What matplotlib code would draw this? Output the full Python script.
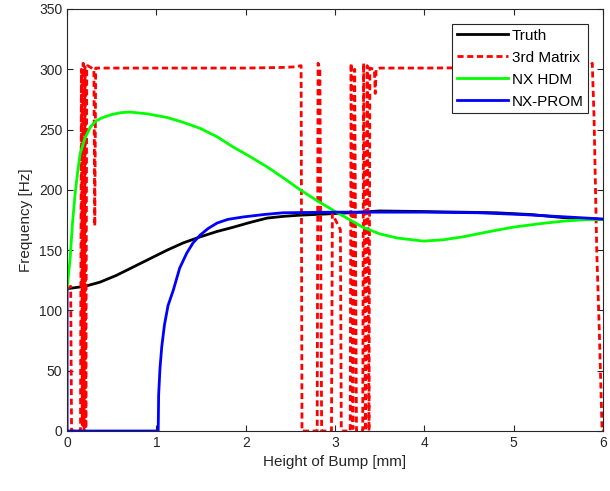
import matplotlib.pyplot as plt
import matplotlib as mpl
import numpy as np

mpl.rcParams['font.family'] = ['Liberation Sans', 'DejaVu Sans']
mpl.rcParams['font.size'] = 10

# Truth
truth_x = [0, 0.2, 0.37, 0.55, 0.74, 0.93, 1.12, 1.3, 1.49, 1.68, 1.86, 2.05, 2.24, 2.42, 2.61, 2.9, 3.17,
           3.5, 4.0, 4.4, 4.8, 5.2, 5.55, 5.8, 6.0]
truth_y = [118, 120, 123.5, 129, 136, 143, 150, 156, 161, 165.5, 169, 173, 176.6, 178, 179, 180, 181,
           182.5, 182, 181.5, 181, 179.5, 177, 176, 175.5]

# NX HDM
hdm_x = [0, 0.034, 0.06, 0.09, 0.12, 0.146, 0.2, 0.26, 0.32, 0.4, 0.5, 0.6, 0.705, 0.9, 1.12, 1.3, 1.49,
         1.68, 1.86, 2.05, 2.24, 2.42, 2.61, 2.8, 2.98, 3.17, 3.31, 3.5, 3.7, 3.99, 4.2, 4.43, 4.7,
         4.99, 5.3, 5.55, 5.8, 6.0]
hdm_y = [118, 143, 172, 197, 216, 230, 243, 252, 257, 260, 262.5, 264, 264.5, 263, 260, 256, 251,
         244, 235.5, 227.5, 219, 210, 200, 191, 183, 175, 169, 163.5, 160, 157.5, 158.5, 161, 165,
         169, 172, 174, 175.3, 175.5]

# NX-PROM
prom_x = [0, 0, 1.02, 1.025, 1.04, 1.06, 1.09, 1.13, 1.19, 1.26, 1.34, 1.41, 1.49, 1.58, 1.68, 1.8, 1.97,
          2.2, 2.42, 3.0, 4.0, 4.6, 5.1, 5.6, 6.0]
prom_y = [118, 0, 0, 30, 52, 70, 88, 104, 117, 135, 147.6, 156, 162.5, 168, 172.5, 175.5, 177.5,
          179.5, 181, 181.5, 181.5, 181, 179.5, 177.5, 175.8]

# 3rd Matrix
matrix_x = [0, 0.04, 0.05, 0.15, 0.16, 0.17, 0.18, 0.19, 0.2, 0.21, 0.22, 0.23, 0.3, 0.31, 0.32,
            0.5, 1.0, 2.0, 2.4, 2.55, 2.62, 2.63, 2.8, 2.81, 2.83, 2.85, 2.96, 2.97, 3.06, 3.07,
            3.17, 3.18, 3.2, 3.22, 3.24, 3.31, 3.32, 3.34, 3.36, 3.38, 3.39, 3.44, 3.45, 3.46,
            3.5, 4.0, 5.0, 5.85, 5.88, 5.9, 5.93, 5.96, 5.99, 6.0]
matrix_y = [118, 120, 0, 0, 300, 5, 305, 0, 302, 2, 300, 303, 300, 170, 301,
            301, 301, 301, 301.5, 302, 303, 0, 0, 305, 300, 0, 0, 180, 167, 0,
            0, 305, 2, 300, 0, 0, 305, 0, 303, 0, 301, 300, 280, 300,
            301, 301, 301.5, 302, 305, 260, 150, 80, 0, 0]

fig = plt.figure(figsize=(6.1, 4.91), dpi=100)
ax = fig.add_axes([0.11, 0.1222, 0.8785, 0.8595])

ax.plot(truth_x, truth_y, color='k', lw=2, label='Truth')
ax.plot(matrix_x, matrix_y, color='r', lw=2, dashes=(2.2, 1.3), label='3rd Matrix')
ax.plot(hdm_x, hdm_y, color='#00ff00', lw=2, label='NX HDM')
ax.plot(prom_x, prom_y, color='b', lw=2, label='NX-PROM')

ax.set_xlim(0, 6)
ax.set_ylim(0, 350)
ax.set_xticks(np.arange(0, 7, 1))
ax.set_yticks(np.arange(0, 351, 50))
ax.set_xlabel('Height of Bump [mm]', fontsize=11, color='#262626')
ax.set_ylabel('Frequency [Hz]', fontsize=11, color='#262626')
ax.tick_params(direction='in', top=True, right=True, length=4, colors='#262626', labelsize=10)
for s in ax.spines.values():
    s.set_color('#262626')
    s.set_linewidth(0.8)

leg = ax.legend(loc='upper right', bbox_to_anchor=(0.972, 0.9645), borderaxespad=0,
                fancybox=False, edgecolor='#262626', framealpha=1, fontsize=11,
                handlelength=3.4, borderpad=0.3, labelspacing=0.53, handletextpad=0.2)
leg.get_frame().set_linewidth(0.8)

plt.savefig('out.png', dpi=100)
